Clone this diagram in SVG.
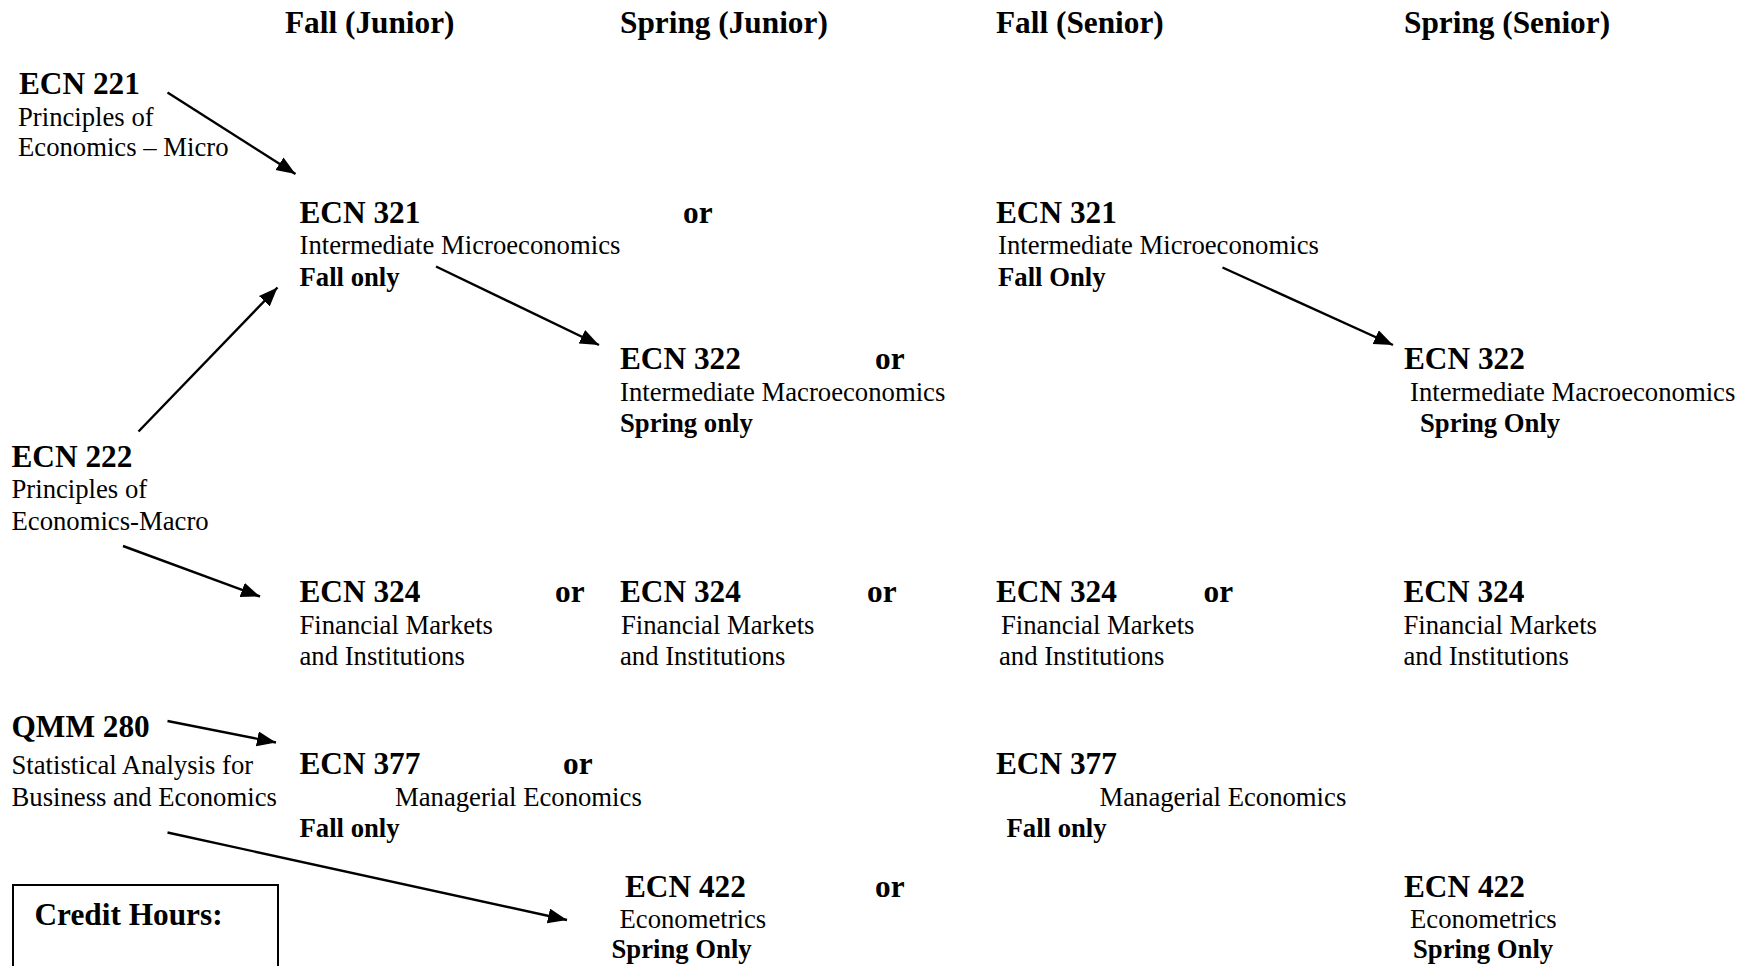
<svg xmlns="http://www.w3.org/2000/svg" width="1747" height="966" viewBox="0 0 1747 966">
<style>
  text { font-family: "Liberation Serif", "Times New Roman", serif; fill: #000; }
  .h { font-size: 31.3px; font-weight: bold; }
  .t { font-size: 26.7px; }
  .b { font-size: 26.7px; font-weight: bold; }
  .conn line { stroke: #000; stroke-width: 2.4; marker-end: url(#ah); }
</style>
<defs>
  <marker id="ah" markerUnits="userSpaceOnUse" markerWidth="20" markerHeight="16" refX="19" refY="7.5" orient="auto">
    <path d="M0,0 L19,7.5 L0,15 z" fill="#000"/>
  </marker>
</defs>
<rect width="1747" height="966" fill="#fff"/>

<g id="headers">
  <text class="h" x="285" y="33">Fall (Junior)</text>
  <text class="h" x="620" y="33">Spring (Junior)</text>
  <text class="h" x="996" y="33">Fall (Senior)</text>
  <text class="h" x="1404" y="33">Spring (Senior)</text>
</g>

<g id="ecn221">
  <text class="h" x="19" y="94">ECN 221</text>
  <text class="t" x="18" y="126">Principles of</text>
  <text class="t" x="18" y="156">Economics – Micro</text>
</g>

<g id="ecn222">
  <text class="h" x="11.5" y="467">ECN 222</text>
  <text class="t" x="11.5" y="498">Principles of</text>
  <text class="t" x="11.5" y="530">Economics-Macro</text>
</g>

<g id="qmm280">
  <text class="h" x="11.5" y="737">QMM 280</text>
  <text class="t" x="11.5" y="774">Statistical Analysis for</text>
  <text class="t" x="11.5" y="806">Business and Economics</text>
</g>

<g id="credit-hours">
  <rect x="13" y="885" width="265" height="100" fill="none" stroke="#000" stroke-width="2"/>
  <text class="h" x="34.5" y="925">Credit Hours:</text>
</g>

<g id="ecn321-fj">
  <text class="h" x="299.5" y="222.5">ECN 321</text>
  <text class="h" x="683" y="222.5">or</text>
  <text class="t" x="299.5" y="254">Intermediate Microeconomics</text>
  <text class="b" x="299.5" y="285.5">Fall only</text>
</g>

<g id="ecn321-fs">
  <text class="h" x="996" y="222.5">ECN 321</text>
  <text class="t" x="998" y="254">Intermediate Microeconomics</text>
  <text class="b" x="998" y="285.5">Fall Only</text>
</g>

<g id="ecn322-sj">
  <text class="h" x="620" y="369">ECN 322</text>
  <text class="h" x="875" y="369">or</text>
  <text class="t" x="620" y="400.5">Intermediate Macroeconomics</text>
  <text class="b" x="620" y="431.5">Spring only</text>
</g>

<g id="ecn322-ss">
  <text class="h" x="1404" y="369">ECN 322</text>
  <text class="t" x="1410" y="400.5">Intermediate Macroeconomics</text>
  <text class="b" x="1420" y="431.5">Spring Only</text>
</g>

<g id="ecn324-fj">
  <text class="h" x="299.5" y="601.5">ECN 324</text>
  <text class="h" x="555" y="601.5">or</text>
  <text class="t" x="299.5" y="634">Financial Markets</text>
  <text class="t" x="299.5" y="665">and Institutions</text>
</g>

<g id="ecn324-sj">
  <text class="h" x="620" y="601.5">ECN 324</text>
  <text class="h" x="867" y="601.5">or</text>
  <text class="t" x="621" y="634">Financial Markets</text>
  <text class="t" x="620" y="665">and Institutions</text>
</g>

<g id="ecn324-fs">
  <text class="h" x="996" y="601.5">ECN 324</text>
  <text class="h" x="1203.5" y="601.5">or</text>
  <text class="t" x="1001" y="634">Financial Markets</text>
  <text class="t" x="999" y="665">and Institutions</text>
</g>

<g id="ecn324-ss">
  <text class="h" x="1403.5" y="601.5">ECN 324</text>
  <text class="t" x="1403.5" y="634">Financial Markets</text>
  <text class="t" x="1403.5" y="665">and Institutions</text>
</g>

<g id="ecn377-fj">
  <text class="h" x="299.5" y="774">ECN 377</text>
  <text class="h" x="563" y="774">or</text>
  <text class="t" x="395" y="806">Managerial Economics</text>
  <text class="b" x="299.5" y="836.5">Fall only</text>
</g>

<g id="ecn377-fs">
  <text class="h" x="996" y="774">ECN 377</text>
  <text class="t" x="1099.5" y="806">Managerial Economics</text>
  <text class="b" x="1006.5" y="836.5">Fall only</text>
</g>

<g id="ecn422-sj">
  <text class="h" x="625" y="897">ECN 422</text>
  <text class="h" x="875" y="897">or</text>
  <text class="t" x="619.5" y="928">Econometrics</text>
  <text class="b" x="611.5" y="958">Spring Only</text>
</g>

<g id="ecn422-ss">
  <text class="h" x="1404" y="897">ECN 422</text>
  <text class="t" x="1410" y="928">Econometrics</text>
  <text class="b" x="1413" y="958">Spring Only</text>
</g>

<g id="connectors" class="conn">
  <line x1="167.5" y1="92.5" x2="295.5" y2="174"/>
  <line x1="138.5" y1="431.5" x2="277.5" y2="287.5"/>
  <line x1="436" y1="266.5" x2="599" y2="345"/>
  <line x1="1222.5" y1="267.5" x2="1393" y2="345"/>
  <line x1="123" y1="546" x2="260" y2="596.5"/>
  <line x1="167.5" y1="721" x2="276" y2="742.5"/>
  <line x1="167.5" y1="832.5" x2="567" y2="920"/>
</g>
</svg>
